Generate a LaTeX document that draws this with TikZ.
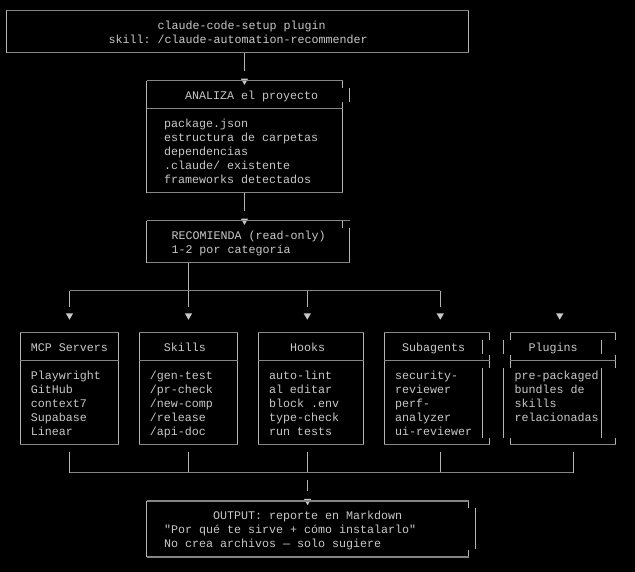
\documentclass[tikz,border=0pt]{standalone}
\usepackage{fontspec}
\setmonofont{Liberation Mono}
\usetikzlibrary{shapes.geometric, positioning}
\newlength{\cwd}
\setlength{\cwd}{7pt}
\newcommand{\ind}[1]{\hspace*{#1\cwd}}
\newcommand{\topstrut}{\spaceskip=\cwd \xspaceskip=\cwd \rule{0pt}{11.8pt}}
\newcommand{\botstrut}{\rule[-2.2pt]{0pt}{2.2pt}}
\definecolor{txtgrey}{HTML}{C8C8C8}
\definecolor{rulegrey}{HTML}{858585}
\definecolor{edgegrey}{HTML}{B4B4B4}
\tikzstyle{block} = [rectangle, draw=edgegrey, line width=0.8pt, outer sep=0pt, align=left, text=txtgrey, font=\ttfamily\fontsize{11.67}{14}\selectfont, execute at begin node=\topstrut, execute at end node=\botstrut]
\tikzstyle{head} = [block, minimum height=28pt, inner ysep=0pt]
\tikzstyle{body} = [block, minimum height=84pt, inner ysep=0pt, below=0pt of #1]
\tikzstyle{line} = [draw=edgegrey, line width=0.8pt]
\tikzstyle{rule} = [draw=rulegrey, line width=1.4pt]
\tikzstyle{tip} = [regular polygon, regular polygon sides=3, regular polygon rotate=180, fill=txtgrey, minimum size=8.4pt, inner sep=0pt]

\begin{document}
\begin{tikzpicture}[x=1pt, y=1pt]
	\useasboundingbox[fill=black] (0,0) rectangle (635,572);

	\node[block, minimum width=462pt, minimum height=42pt, inner ysep=0pt, text width=260pt, inner xsep=101pt] (setup) at (237.5,540.3) {\hspace*{1pt}\ind{7}claude-code-setup plugin\\\hspace*{1pt}skill:~/claude-automation-recommender};

	\node[head, draw=none, below=28pt of setup, xshift=7pt, minimum width=196pt, text width=161pt, inner xsep=17.5pt] (analizahead) {\ind{3}ANALIZA el proyecto};
	\node[body=analizahead, draw=none, minimum width=196pt, text width=161pt, inner xsep=17.5pt] (analizabody) {package.json\\estructura de carpetas\\dependencias\\.claude/ existente\\frameworks detectados};

	\node[block, draw=none, below=28pt of analizabody, xshift=3.5pt, minimum width=203pt, minimum height=42pt, inner ysep=0pt, text width=155pt, inner xsep=24pt] (recomienda) {\hspace*{1pt}RECOMIENDA~(read-only)\\\hspace*{1pt}1-2 por categoría};

	% five columns
	\node[head, below=70pt of recomienda, xshift=-178.5pt, minimum width=98.4pt, text width=77.4pt, inner xsep=10.5pt] (mcphead) {MCP~Servers};
	\node[body=mcphead, minimum width=98.4pt, text width=77.4pt, inner xsep=10.5pt] (mcpbody) {Playwright\\GitHub\\context7\\Supabase\\Linear};

	\node[head, right=20.6pt of mcphead, minimum width=98.4pt, text width=77.4pt, inner xsep=10.5pt] (skillshead) {\ind{2}Skills};
	\node[body=skillshead, minimum width=98.4pt, text width=77.4pt, inner xsep=10.5pt] (skillsbody) {/gen-test\\/pr-check\\/new-comp\\/release\\/api-doc};

	\node[head, right=20.6pt of skillshead, minimum width=105.4pt, text width=84pt, inner xsep=10.7pt] (hookshead) {\ind{3}Hooks};
	\node[body=hookshead, minimum width=105.4pt, text width=84pt, inner xsep=10.7pt] (hooksbody) {auto-lint\\al editar\\block .env\\type-check\\run tests};

	\node[head, draw=none, right=20.6pt of hookshead, minimum width=105.4pt, text width=84pt, inner xsep=10.7pt] (subhead) {\ind{1}Subagents};
	\node[body=subhead, draw=none, minimum width=105.4pt, text width=84pt, inner xsep=10.7pt] (subbody) {security-\\reviewer\\perf-\\analyzer\\ui-reviewer};

	\node[head, draw=none, right=20.6pt of subhead, minimum width=105.4pt, text width=97pt, inner xsep=4.2pt] (plughead) {\ind{2}Plugins};
	\node[body=plughead, draw=none, minimum width=105.4pt, text width=97pt, inner xsep=4.2pt] (plugbody) {pre-packaged\\bundles de\\skills\\relacionadas\\~};

	\node[block, draw=none, below=56.3pt of mcpbody, xshift=238.1pt, minimum width=322.2pt, minimum height=56pt, inner ysep=0pt, text width=287pt, inner xsep=17.6pt] (output) {\ind{7}OUTPUT: reporte en Markdown\\"Por qué te sirve + cómo instalarlo"\\No crea archivos — solo sugiere};

	% arrow heads
	\node[tip] (tipanaliza) at (analizahead.north) {};
	\node[tip] (tiprecomienda) at (recomienda.north -| analizahead) {};
	\node[tip, above=12.6pt of mcphead] (tipmcp) {};
	\node[tip, above=12.6pt of skillshead] (tipskills) {};
	\node[tip, above=12.6pt of hookshead, xshift=-3.7pt] (tiphooks) {};
	\node[tip, above=12.6pt of subhead, xshift=3.3pt] (tipsub) {};
	\node[tip, above=12.6pt of plughead, xshift=-3.3pt] (tipplug) {};
	\node[tip] (tipoutput) at (output.north) {};

	\coordinate[below=28pt of recomienda.south] (busin);
	\coordinate[below=28pt of mcpbody.south] (busout);
	\coordinate[xshift=10.3pt] (plugout) at (plugbody.south);

	% connectors
	\path [line, shorten >=7.2pt] (setup.south -| tipanaliza) -- (tipanaliza);
	\path [line, shorten >=7.2pt] (analizabody) -- (tiprecomienda);
	\path [line, shorten >=6.5pt] (recomienda.south -| tipskills) -- (tipskills);
	\foreach \t in {tipmcp, tiphooks, tipsub}
		\path [line, shorten >=6.5pt] (busin -| \t) -- (\t);
	\path [rule] (busin -| tipmcp) -- (busin -| tipsub);

	\foreach \b/\t in {mcpbody/tipmcp, skillsbody/tipskills, hooksbody/tiphooks, subbody/tipsub, plugbody/plugout}
		\path [line, shorten <=7.6pt] (\b.south -| \t) -- (busout -| \t);
	\path [rule] (busout -| tipmcp) -- (busout -| plugout);
	\path [line, shorten <=7.3pt, shorten >=7.3pt] (busout -| tipoutput) -- (tipoutput);

	% broken edges
	\path [line] (analizahead.north west) -- (analizabody.south west);
	\path [line] (analizahead.north east) -- ++(0,-7);
	\path [line] ([xshift=7pt,yshift=-7.4pt]analizahead.north east) -- ++(0,-13.6);
	\path [line] ([yshift=-21.6pt]analizahead.north east) -- (analizabody.south east);

	\path [line] (recomienda.north west) -- (recomienda.south west);
	\path [line] ([xshift=-7pt]recomienda.north east) -- ++(0,-7);
	\path [line] ([yshift=-7.4pt]recomienda.north east) -- (recomienda.south east);

	\path [line] (output.north west) -- (output.south west);
	\path [line] (output.north east) -- ++(0,-7);
	\path [line] ([xshift=6.8pt,yshift=-7.4pt]output.north east) -- ++(0,-41);
	\path [line] ([yshift=-48.8pt]output.north east) -- (output.south east);

	\path [line] (subhead.north west) -- (subbody.south west);
	\foreach \c in {subhead.north east, plughead.north west, plughead.north east} {
		\path [line] (\c) -- ++(0,-7);
		\path [line] ([yshift=-22pt]\c) -- ++(0,-13);
		\path [line] ([yshift=-105.6pt]\c) -- ++(0,-6.4);
	}
	\foreach \c/\s in {subhead.north east/-7pt, plughead.north west/-7pt, plughead.north east/-14pt} {
		\path [line] ([xshift=\s,yshift=-7.6pt]\c) -- ++(0,-13.4);
		\path [line] ([xshift=\s,yshift=-35.6pt]\c) -- ++(0,-69.4);
	}

	% horizontal rules
	\foreach \b in {setup, analizahead, analizabody, recomienda, mcphead, mcpbody, skillshead, skillsbody, hookshead, hooksbody, subhead, subbody, plughead, plugbody, output} {
		\path [rule] (\b.north west) -- (\b.north east);
		\path [rule] (\b.south west) -- (\b.south east);
	}
\end{tikzpicture}
\end{document}
